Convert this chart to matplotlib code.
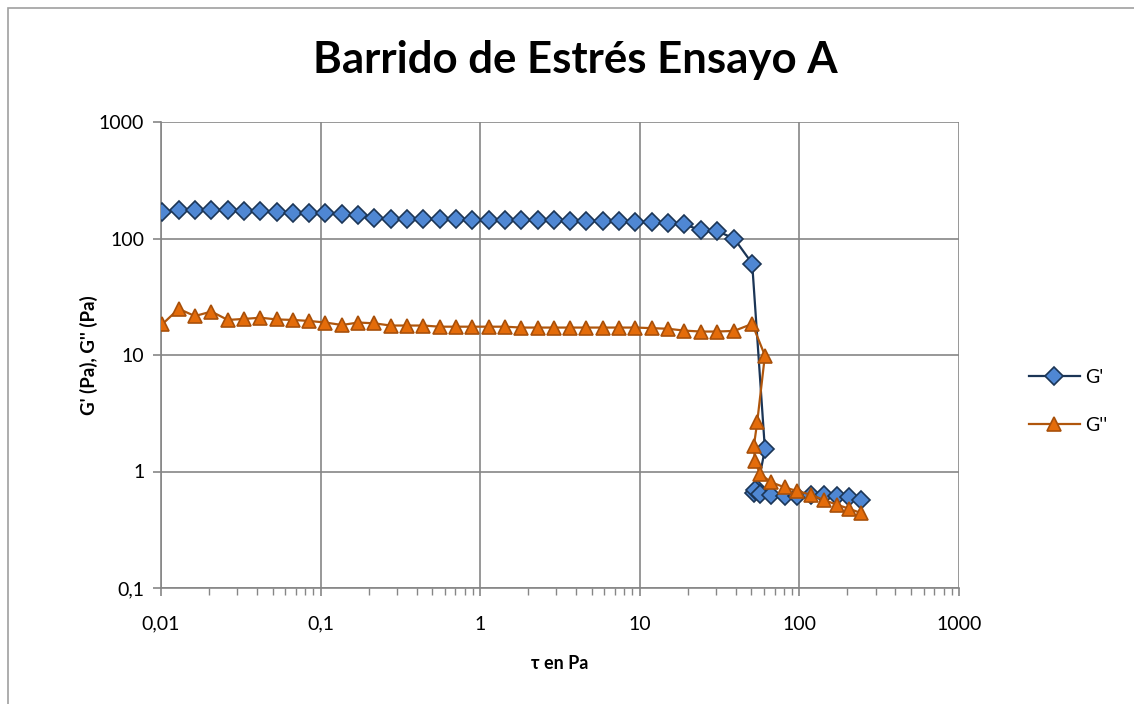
import matplotlib.pyplot as plt
from matplotlib.ticker import FixedLocator, LogLocator, NullFormatter
from matplotlib.patches import Rectangle

plt.rcParams['font.family'] = ['Lato', 'DejaVu Sans']

# shear stress (Pa) - same for both series
tau = [0.0102, 0.0129, 0.0163, 0.0207, 0.0262, 0.0331, 0.0419, 0.0530, 0.0670, 0.0848,
       0.107, 0.136, 0.172, 0.217, 0.275, 0.348, 0.440, 0.557, 0.705, 0.892,
       1.13, 1.43, 1.81, 2.29, 2.89, 3.66, 4.63, 5.86, 7.42, 9.39,
       11.9, 15.0, 19.0, 24.1, 30.4, 39.0, 50.6, 60.8, 54.4, 51.9,
       52.6, 56.6, 66.3, 81.0, 96.7, 119, 142, 171, 204, 243]

g_storage = [169, 175, 175, 177, 175, 173, 171, 168, 167, 166,
             164, 162, 160, 151, 148, 148, 147, 146, 146, 144,
             144, 144, 144, 144, 144, 142, 142, 142, 142, 139,
             139, 135, 132, 118, 116, 100, 61, 1.55, 0.71, 0.66,
             0.69, 0.64, 0.63, 0.62, 0.62, 0.63, 0.63, 0.62, 0.60, 0.57]

g_loss = [18.4, 24.9, 21.6, 23.6, 20.0, 20.4, 20.9, 20.2, 20.0, 19.6,
          19.0, 18.1, 19.0, 18.7, 17.9, 17.9, 17.9, 17.5, 17.5, 17.5,
          17.5, 17.5, 17.2, 17.2, 17.2, 17.2, 17.2, 17.2, 17.2, 17.2,
          17.0, 16.8, 16.2, 15.9, 15.9, 16.1, 18.5, 9.9, 2.65, 1.67,
          1.23, 0.96, 0.81, 0.73, 0.68, 0.63, 0.57, 0.52, 0.48, 0.44]

x_ticks = [0.01, 0.1, 1, 10, 100, 1000]
x_labels = ['0,01', '0,1', '1', '10', '100', '1000']
y_ticks = [0.1, 1, 10, 100, 1000]
y_labels = ['0,1', '1', '10', '100', '1000']

W, H = 1134, 704
fig = plt.figure(figsize=(W / 100, H / 100), dpi=100)
ax = fig.add_axes([161 / W, 1 - 588 / H, (959 - 161) / W, (588 - 122) / H])

grid_c = '#868686'
ax.plot(tau, g_storage, color='#1b3556', lw=1.6, marker='D', ms=9.5,
        mfc='#4f87d3', mec='#1b3556', mew=1.2, label="G'", zorder=3)
ax.plot(tau, g_loss, color='#b0560c', lw=1.6, marker='^', ms=10.5,
        mfc='#e46c0a', mec='#a8500a', mew=1.2, label="G''", zorder=4)

ax.set_xscale('log')
ax.set_yscale('log')
ax.set_xlim(0.01, 1000)
ax.set_ylim(0.1, 1000)
ax.xaxis.set_major_locator(FixedLocator(x_ticks))
ax.set_xticklabels(x_labels)
ax.xaxis.set_minor_locator(LogLocator(base=10, subs=range(2, 10), numticks=20))
ax.xaxis.set_minor_formatter(NullFormatter())
ax.yaxis.set_major_locator(FixedLocator(y_ticks))
ax.set_yticklabels(y_labels)
ax.yaxis.set_minor_locator(FixedLocator([]))

ax.grid(True, which='major', color=grid_c, lw=1.2)
for s in ['top', 'right']:
    ax.spines[s].set_visible(False)
for s in ['left', 'bottom']:
    ax.spines[s].set_color(grid_c)
    ax.spines[s].set_linewidth(1.2)
ax.tick_params(axis='both', which='major', color=grid_c, width=1.2, length=6,
               labelsize=14, pad=6)
ax.tick_params(axis='x', which='minor', color=grid_c, width=1.0, length=5)
ax.tick_params(axis='x', which='major', pad=14)

# title is centred on the whole chart area, not the plot area
fig.text(575 / W, 1 - 60 / H, 'Barrido de Estrés Ensayo A', fontsize=31.5,
         fontweight='bold', ha='center', va='center')
ax.set_xlabel('τ en Pa', fontsize=13, fontweight='bold', labelpad=16)
ax.set_ylabel("G' (Pa), G'' (Pa)", fontsize=13.5, fontweight='bold', labelpad=1)

ax.legend(loc='center left', bbox_to_anchor=(1.066, 0.40), frameon=False,
          fontsize=14, handlelength=2.6, labelspacing=1.6, handletextpad=0.3)

fig.patches.append(Rectangle((8 / W, -0.1), 1.1, 1.1 - 8 / H,
                             transform=fig.transFigure, fill=False,
                             edgecolor='#a0a0a0', lw=1.2))

fig.savefig('out.png', dpi=100)
